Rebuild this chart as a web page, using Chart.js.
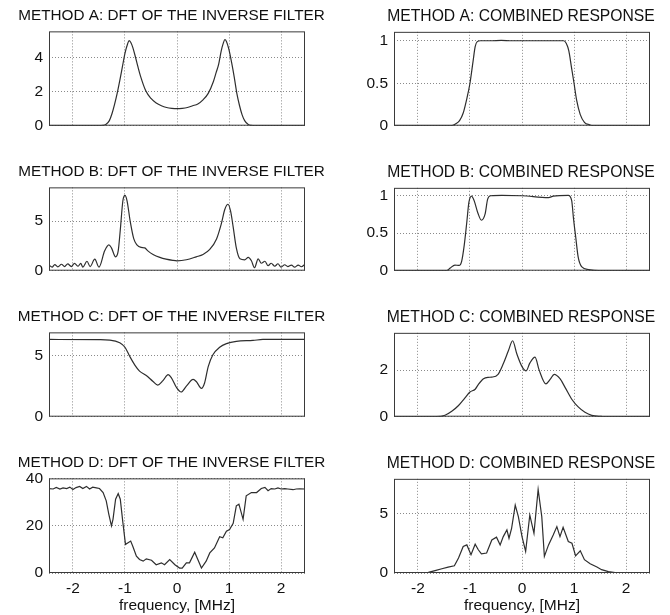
<!DOCTYPE html>
<html>
<head>
<meta charset="utf-8">
<script src="https://cdn.jsdelivr.net/npm/chart.js@4"></script>
<style>
  html, body { margin: 0; background: #fff; width: 670px; height: 615px; overflow: hidden; }
  body { position: relative; }
  canvas { position: absolute; }
</style>
</head>
<body>
<canvas id="c1"></canvas><canvas id="c2"></canvas>
<canvas id="c3"></canvas><canvas id="c4"></canvas>
<canvas id="c5"></canvas><canvas id="c6"></canvas>
<canvas id="c7"></canvas><canvas id="c8"></canvas>
<script>
// frequency axis, MHz
var xTicks = [-2, -1, 0, 1, 2];

// method A
var freqA1 = [-2.46,-1.5,-1.42,-1.37,-1.3,-1.25,-1.2,-1.15,-1.1,-1.05,-1.0,-0.95,-0.92,-0.89,-0.85,-0.8,-0.75,-0.7,-0.6,-0.5,-0.4,-0.3,-0.2,-0.1,0,
              0.1,0.2,0.3,0.4,0.5,0.6,0.7,0.75,0.8,0.85,0.89,0.92,0.95,1.0,1.05,1.1,1.15,1.2,1.25,1.3,1.37,1.42,1.5,2.46];
var invA = [0,0,0.02,0.07,0.3,0.7,1.25,1.9,2.65,3.45,4.25,4.8,5.0,4.9,4.6,4.05,3.45,2.9,2.05,1.6,1.33,1.17,1.07,1.02,1.0,
            1.02,1.07,1.17,1.28,1.52,1.9,2.6,3.1,3.6,4.4,4.85,5.05,4.95,4.45,3.7,2.85,1.9,1.2,0.65,0.3,0.07,0.02,0,0];
var freqA2 = [-2.46,-1.35,-1.28,-1.2,-1.13,-1.06,-1.0,-0.94,-0.9,-0.86,-0.8,-0.6,-0.4,-0.2,0,0.2,0.4,0.6,0.8,0.85,0.9,0.95,1.0,1.05,1.12,1.2,1.3,1.36,2.46];
var combA = [0,0,0.02,0.06,0.15,0.32,0.5,0.76,0.93,0.99,1.0,1.0,1.005,1.0,1.0,1.0,1.0,1.0,1.0,0.97,0.88,0.69,0.5,0.3,0.13,0.04,0.01,0,0];

// method B
var freqB1 = [-2.46,-2.4,-2.35,-2.29,-2.22,-2.16,-2.1,-2.03,-1.97,-1.9,-1.85,-1.81,-1.73,-1.67,-1.58,-1.5,-1.39,-1.31,-1.26,-1.18,-1.13,-1.09,-1.04,-1.0,-0.96,-0.9,-0.83,-0.77,-0.69,-0.62,-0.56,-0.46,-0.33,-0.21,-0.08,0,
              0.18,0.37,0.5,0.63,0.76,0.85,0.92,0.98,1.03,1.08,1.14,1.21,1.3,1.37,1.43,1.49,1.56,1.62,1.69,1.75,1.81,1.88,1.94,2.0,2.07,2.13,2.2,2.26,2.33,2.39,2.46];
var invB = [0.57,0.36,0.62,0.39,0.65,0.42,0.68,0.42,0.74,0.45,0.74,0.36,0.95,0.42,1.16,0.36,2.0,2.6,2.3,1.4,2.0,4.1,7.05,7.6,7.05,5.0,3.2,2.6,2.35,2.3,2.0,1.64,1.34,1.16,1.04,1.0,
            1.1,1.4,1.64,2.15,3.2,4.7,6.2,6.7,6.0,4.4,2.3,1.2,1.1,1.35,1.0,0.3,1.2,0.75,0.95,0.5,0.75,0.45,0.7,0.36,0.6,0.42,0.57,0.36,0.57,0.4,0.65];
var freqB2 = [-2.46,-1.45,-1.38,-1.29,-1.21,-1.16,-1.11,-1.06,-1.02,-0.97,-0.92,-0.85,-0.78,-0.71,-0.66,-0.6,-0.39,0,0.51,0.6,0.89,0.955,0.99,1.03,1.08,1.15,1.28,1.47,2.46];
var combB = [0,0,0.035,0.075,0.07,0.125,0.34,0.65,0.91,0.99,0.93,0.77,0.67,0.75,0.95,0.995,1.0,0.995,0.97,0.99,1.0,0.93,0.69,0.46,0.18,0.05,0.015,0,0];

// method C
var freqC1 = [-2.46,-1.5,-1.29,-1.1,-1.0,-0.91,-0.81,-0.72,-0.59,-0.46,-0.37,-0.27,-0.17,-0.11,-0.01,0.08,0.18,0.31,0.37,0.47,0.53,0.6,0.69,0.82,0.95,1.14,1.46,1.65,2.46];
var invC = [6.32,6.3,6.27,6.05,5.68,4.95,4.22,3.73,3.37,2.88,2.59,2.95,3.44,3.2,2.39,2.02,2.5,3.05,2.88,2.32,2.76,4.1,5.07,5.68,5.98,6.17,6.24,6.32,6.32];
var freqC2 = [-2.46,-1.64,-1.48,-1.35,-1.22,-1.1,-1.0,-0.9,-0.84,-0.74,-0.65,-0.58,-0.46,-0.36,-0.26,-0.18,-0.1,0,0.08,0.15,0.25,0.33,0.46,0.54,0.62,0.73,0.83,0.96,1.08,1.21,1.34,1.53,1.6,2.46];
var combC = [0,0,0.06,0.23,0.48,0.8,1.06,1.18,1.38,1.63,1.69,1.7,1.82,2.27,2.84,3.26,2.7,2.15,1.97,2.3,2.56,2.0,1.41,1.6,1.82,1.63,1.25,0.74,0.42,0.19,0.06,0.01,0,0];

// method D
var freqD1 = [-2.46,-2.38,-2.32,-2.25,-2.19,-2.12,-2.06,-2.0,-1.94,-1.87,-1.81,-1.74,-1.68,-1.62,-1.55,-1.49,-1.42,-1.36,-1.31,-1.26,-1.23,-1.18,-1.13,-1.09,-1.04,-0.99,-0.94,-0.89,-0.85,-0.78,-0.72,-0.65,-0.59,-0.49,-0.4,-0.3,-0.24,-0.14,-0.04,0.05,0.1,0.18,0.24,0.34,0.4,0.47,0.56,0.63,0.72,0.82,0.88,0.95,1.01,1.08,1.14,1.19,1.27,1.33,1.43,1.53,1.62,1.69,1.75,1.81,1.88,1.94,2.0,2.07,2.13,2.23,2.29,2.36,2.46];
var invD = [35.7,35.5,36.2,35.5,36.0,35.7,36.3,35.3,36.1,36.6,35.7,36.6,35.5,36.3,36.0,35.7,34.0,30.5,24.8,19.9,22.7,31.2,33.6,31.2,21.3,12.1,12.8,13.5,11.3,7.1,5.7,5.0,6.0,5.4,3.5,4.3,3.5,5.7,3.5,2.1,2.1,4.3,4.3,8.8,5.7,2.1,5.0,8.5,10.6,15.3,14.9,17.7,18.4,21.0,28.4,29.1,22.7,32.6,34.0,34.0,35.7,36.2,34.8,35.7,35.5,36.0,35.5,35.7,35.5,35.2,35.5,35.6,35.5];
var freqD2 = [-2.46,-2.0,-1.8,-1.67,-1.54,-1.42,-1.3,-1.22,-1.13,-1.06,-0.98,-0.9,-0.84,-0.78,-0.68,-0.58,-0.49,-0.42,-0.36,-0.29,-0.25,-0.2,-0.13,-0.07,0,0.07,0.15,0.23,0.31,0.38,0.43,0.51,0.6,0.67,0.73,0.79,0.89,0.96,1.03,1.12,1.2,1.31,1.44,1.53,1.66,1.79,1.92,2.46];
var combD = [0,0,0.05,0.2,0.36,0.5,0.61,1.26,2.23,2.37,1.54,2.43,1.96,1.62,1.68,2.79,3.02,2.37,3.07,3.63,2.93,3.77,5.73,4.75,3.07,1.82,4.89,3.35,7.04,4.75,1.4,2.37,3.21,3.91,3.07,3.85,2.65,2.51,1.45,1.87,1.12,0.78,0.5,0.28,0.11,0.03,0,0];

var lineCol = '#2e2e2e';
var fontFam = '"Liberation Sans", Arial, sans-serif';

var framePlugin = {
  id: 'frame',
  afterDraw: function(chart) {
    var a = chart.chartArea, ctx = chart.ctx;
    ctx.save();
    ctx.strokeStyle = '#3a3a3a';
    ctx.lineWidth = 1;
    ctx.strokeRect(a.left + 0.5, a.top + 0.5, a.right - a.left - 1, a.bottom - a.top - 1);
    ctx.restore();
  }
};

function makePanel(id, col, row, title, freq, vals, yMax, yTicks, smooth) {
  var rowsT = [32, 188, 333, 479];
  var rowsB = [137, 282, 428, 573];
  var titleH = 25;
  var last = row == 3;
  var xh = last ? 42 : 4;
  // canvases are wider than the plot and centred on where the title sits
  // (left: x~172, right: x~521); they may hang off the page edge
  var cx = col == 0 ? -20 : 335;
  var cw = col == 0 ? 383 : 372;
  var plotL = col == 0 ? 49 : 394;
  var plotR = col == 0 ? 305 : 650;
  var titleSize = col == 0 ? 15.3 : 15.7;
  var top = rowsT[row] - titleH;
  var h = titleH + (rowsB[row] - rowsT[row]) + xh;
  var el = document.getElementById(id);
  el.width = cw; el.height = h;
  el.style.left = cx + 'px'; el.style.top = top + 'px';
  var pts = freq.map(function(f, i) { return { x: f, y: vals[i] }; });
  new Chart(el.getContext('2d'), {
    type: 'line',
    data: { datasets: [{ data: pts, borderColor: lineCol, borderWidth: 1.2, pointRadius: 0,
      cubicInterpolationMode: smooth ? 'monotone' : 'default', tension: 0 }] },
    options: {
      responsive: false, animation: false, events: [],
      layout: { padding: 0 },
      plugins: {
        legend: { display: false }, tooltip: { enabled: false },
        title: { display: true, text: title, color: '#111', fullSize: true,
          font: { family: fontFam, size: titleSize, weight: 'normal' }, padding: { top: 0, bottom: 6 } }
      },
      scales: {
        x: {
          type: 'linear', min: -2.46, max: 2.46,
          afterBuildTicks: function(s) { s.ticks = xTicks.map(function(v) { return { value: v }; }); },
          afterFit: function(s) { s.height = xh; },
          grid: { color: '#8a8a8a', drawTicks: false },
          border: { display: false, dash: [1, 2] },
          ticks: { display: last, color: '#111', padding: 6, maxRotation: 0, font: { family: fontFam, size: 15.5 },
            callback: function(v) { return String(v); } },
          title: { display: last, text: 'frequency, [MHz]', color: '#111', padding: 0, font: { family: fontFam, size: 15.5 } }
        },
        y: {
          min: 0, max: yMax,
          afterBuildTicks: function(s) { s.ticks = yTicks.map(function(v) { return { value: v }; }); },
          afterFit: function(s) { s.width = plotL - cx; },
          grid: { color: '#8a8a8a', drawTicks: false },
          border: { display: false, dash: [1, 2] },
          ticks: { color: '#111', padding: 6, font: { family: fontFam, size: 15.5 },
            callback: function(v) { return String(v); } }
        },
        // empty spacer on the right so the plot ends where the reference does
        yRight: {
          position: 'right', display: true, min: 0, max: 1,
          afterFit: function(s) { s.width = (cx + cw) - plotR; },
          grid: { display: false, drawTicks: false }, border: { display: false },
          ticks: { display: false }
        }
      }
    },
    plugins: [framePlugin]
  });
}

makePanel('c1', 0, 0, 'METHOD A: DFT OF THE INVERSE FILTER', freqA1, invA, 5.54, [0, 2, 4], true);
makePanel('c2', 1, 0, 'METHOD A: COMBINED RESPONSE', freqA2, combA, 1.105, [0, 0.5, 1], true);
makePanel('c3', 0, 1, 'METHOD B: DFT OF THE INVERSE FILTER', freqB1, invB, 8.4, [0, 5], true);
makePanel('c4', 1, 1, 'METHOD B: COMBINED RESPONSE', freqB2, combB, 1.1, [0, 0.5, 1], true);
makePanel('c5', 0, 2, 'METHOD C: DFT OF THE INVERSE FILTER', freqC1, invC, 6.9, [0, 5], true);
makePanel('c6', 1, 2, 'METHOD C: COMBINED RESPONSE', freqC2, combC, 3.6, [0, 2], true);
makePanel('c7', 0, 3, 'METHOD D: DFT OF THE INVERSE FILTER', freqD1, invD, 40, [0, 20, 40], false);
makePanel('c8', 1, 3, 'METHOD D: COMBINED RESPONSE', freqD2, combD, 7.94, [0, 5], false);
</script>
</body>
</html>
